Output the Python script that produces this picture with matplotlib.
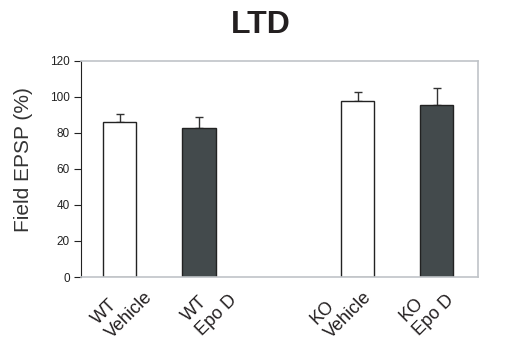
import matplotlib.pyplot as plt
from matplotlib.transforms import blended_transform_factory

plt.rcParams['font.family'] = ['Liberation Sans', 'DejaVu Sans']

# Datos del grafico LTD
etiquetas = ['WT\nVehicle', 'WT\nEpo D', 'KO\nVehicle', 'KO\nEpo D']
posiciones = [0, 1, 3, 4]
valores = [86, 83, 98, 95.5]
errores = [4.5, 6, 5, 9.5]
colores = ['white', '#434a4c', 'white', '#434a4c']

# Posicion (en unidades del eje x) donde van centradas las etiquetas giradas
pos_etiquetas = [0.03, 1.13, 2.79, 3.87]

fig = plt.figure(figsize=(5.1, 3.43), dpi=100)
ax = fig.add_axes([81 / 510, 1 - 277 / 343, 397 / 510, 216 / 343])

ax.bar(posiciones, valores, width=0.42, color=colores, edgecolor='#222222', linewidth=1.0, zorder=2)
ax.errorbar(posiciones, valores, yerr=[[0] * 4, errores], fmt='none', ecolor='#333333',
            elinewidth=1.0, capsize=3, capthick=1.0, zorder=1)

ax.set_xlim(-0.49, 4.52)
ax.set_ylim(0, 120)
ax.set_yticks(range(0, 121, 20))
ax.tick_params(axis='y', direction='out', length=5, width=0.8, labelsize=8.5, pad=3,
               colors='#222222')
ax.set_xticks([])

# Etiquetas del eje x giradas 45 grados, dos lineas alineadas a la izquierda
trans = blended_transform_factory(ax.transData, ax.transAxes)
for x, texto in zip(pos_etiquetas, etiquetas):
    ax.text(x, -0.145, texto, transform=trans, rotation=45, rotation_mode='anchor',
            ha='center', va='center', multialignment='left', fontsize=13,
            color='#231f20', clip_on=False)

for lado in ['top', 'right', 'bottom']:
    ax.spines[lado].set_color('#c0c4c8')
    ax.spines[lado].set_linewidth(1.2)
ax.spines['left'].set_color('#222222')
ax.spines['left'].set_linewidth(0.8)

fig.text(24 / 510, 1 - 160 / 343, 'Field EPSP (%)', fontsize=15, color='#333333',
         rotation=90, ha='center', va='center')
fig.text(261 / 510, 1 - 25 / 343, 'LTD', fontsize=23, fontweight='bold',
         ha='center', va='center', color='#231f20')

fig.savefig('out.png', dpi=100)
